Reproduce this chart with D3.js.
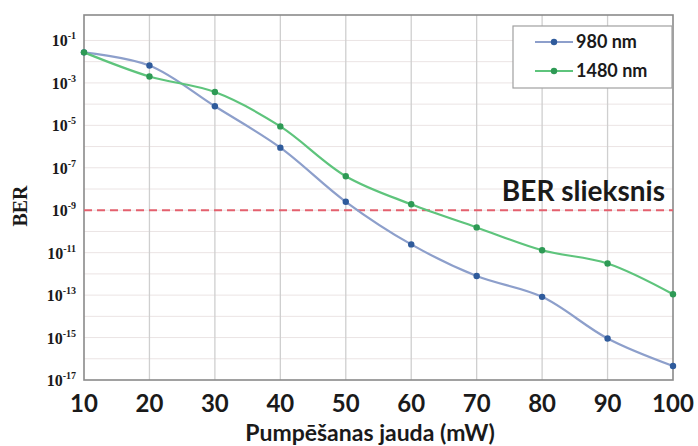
<!DOCTYPE html>
<html>
<head>
<meta charset="utf-8">
<script src="https://cdn.jsdelivr.net/npm/d3@7"></script>
<style>
  html, body { margin: 0; padding: 0; background: #fff; }
  svg { display: block; }
</style>
</head>
<body>
<div id="chart"></div>
<script>
// Pump power (mW) and bit error rate for the two pump wavelengths
const power = [10, 20, 30, 40, 50, 60, 70, 80, 90, 100];
const ber980 = [2.75e-2, 6.6e-3, 7.9e-5, 8.9e-7, 2.5e-9, 2.45e-11, 7.9e-13, 8.3e-14, 9.1e-16, 4.6e-17];
const ber1480 = [2.75e-2, 2.0e-3, 3.7e-4, 8.9e-6, 4.0e-8, 1.9e-9, 1.55e-10, 1.3e-11, 3.1e-12, 1.1e-13];
const seriesNames = ["980 nm", "1480 nm"];
const berThreshold = 1e-9;
const thresholdLabel = "BER slieksnis";
const yTickExponents = [-1, -3, -5, -7, -9, -11, -13, -15, -17];
const xTitle = "Pumpēšanas jauda (mW)";
const yTitle = "BER";

const W = 698, H = 446;
const plot = { left: 84, right: 673, top: 15, bottom: 380 };

const svg = d3.select("#chart").append("svg")
  .attr("width", W).attr("height", H);

const x = d3.scaleLinear().domain([10, 100]).range([plot.left, plot.right]);
const y = d3.scaleLog().domain([1e-17, Math.pow(10, 0.2)]).range([plot.bottom, plot.top]);

// horizontal grid, one line per decade
const decades = d3.range(-16, 0).map(e => Math.pow(10, e));
svg.append("g").selectAll("line").data(decades).join("line")
  .attr("x1", plot.left).attr("x2", plot.right)
  .attr("y1", d => y(d)).attr("y2", d => y(d))
  .attr("stroke", "#ebe4e4").attr("stroke-width", 1);

// vertical grid
svg.append("g").selectAll("line").data(power.slice(1, -1)).join("line")
  .attr("x1", d => x(d)).attr("x2", d => x(d))
  .attr("y1", plot.top).attr("y2", plot.bottom)
  .attr("stroke", "#cfcfcf").attr("stroke-width", 1.3);

// plot frame
svg.append("rect")
  .attr("x", plot.left).attr("y", plot.top)
  .attr("width", plot.right - plot.left).attr("height", plot.bottom - plot.top)
  .attr("fill", "none").attr("stroke", "#8a8a8a").attr("stroke-width", 1.6);

// threshold line
svg.append("line")
  .attr("x1", plot.left).attr("x2", plot.right)
  .attr("y1", y(berThreshold)).attr("y2", y(berThreshold))
  .attr("stroke", "#e4606e").attr("stroke-width", 2.2)
  .attr("stroke-dasharray", "8,5");

svg.append("text")
  .attr("x", 665).attr("y", y(berThreshold) - 9)
  .attr("text-anchor", "end")
  .attr("font-family", "Lato, 'Open Sans', sans-serif")
  .attr("font-weight", "bold").attr("font-size", 28)
  .attr("fill", "#1a1a1a")
  .text(thresholdLabel);

// series
const series = [
  { name: seriesNames[0], values: ber980, line: "#8d9fcb", dot: "#2f5b9c" },
  { name: seriesNames[1], values: ber1480, line: "#5ec47c", dot: "#2e9a55" }
];

const lineGen = d3.line()
  .x(d => x(d[0])).y(d => y(d[1]))
  .curve(d3.curveCatmullRom.alpha(0.5));

series.forEach(s => {
  const pts = power.map((p, i) => [p, s.values[i]]);
  svg.append("path").datum(pts)
    .attr("d", lineGen)
    .attr("fill", "none").attr("stroke", s.line).attr("stroke-width", 2.2);
  svg.append("g").selectAll("circle").data(pts).join("circle")
    .attr("cx", d => x(d[0])).attr("cy", d => y(d[1]))
    .attr("r", 3.2).attr("fill", s.dot);
});

// y tick labels (10 with superscript exponent)
const yLab = svg.append("g")
  .attr("font-family", "'Liberation Serif', 'Times New Roman', serif")
  .attr("font-weight", "bold").attr("fill", "#1a1a1a");
yTickExponents.forEach(e => {
  const t = yLab.append("text")
    .attr("x", 76).attr("y", y(Math.pow(10, e)) + 6)
    .attr("text-anchor", "end").attr("font-size", 16);
  t.append("tspan").text("10");
  t.append("tspan").attr("font-size", 10).attr("dy", -7).text(String(e));
});

// x tick labels
svg.append("g").selectAll("text").data(power).join("text")
  .attr("x", d => x(d)).attr("y", 412)
  .attr("text-anchor", "middle")
  .attr("font-family", "Lato, 'Open Sans', sans-serif")
  .attr("font-weight", "bold").attr("font-size", 24)
  .attr("fill", "#1a1a1a")
  .text(d => d);

// axis titles
svg.append("text")
  .attr("x", 370).attr("y", 441)
  .attr("text-anchor", "middle")
  .attr("font-family", "Lato, 'Open Sans', sans-serif")
  .attr("font-weight", "bold").attr("font-size", 23)
  .attr("fill", "#1a1a1a")
  .text(xTitle);

svg.append("text")
  .attr("transform", "translate(27,206) rotate(-90)")
  .attr("text-anchor", "middle")
  .attr("font-family", "'Liberation Serif', 'Times New Roman', serif")
  .attr("font-weight", "bold").attr("font-size", 20)
  .attr("fill", "#1a1a1a")
  .text(yTitle);

// legend
const lg = svg.append("g");
lg.append("rect")
  .attr("x", 513).attr("y", 26).attr("width", 159).attr("height", 62)
  .attr("fill", "#fff").attr("stroke", "#a0a0a0").attr("stroke-width", 1.2);
series.forEach((s, i) => {
  const ly = 42 + i * 29;
  lg.append("line")
    .attr("x1", 535).attr("x2", 573).attr("y1", ly).attr("y2", ly)
    .attr("stroke", s.line).attr("stroke-width", 2.2);
  lg.append("circle").attr("cx", 554).attr("cy", ly).attr("r", 3.2).attr("fill", s.dot);
  lg.append("text")
    .attr("x", 576).attr("y", ly + 6)
    .attr("font-family", "Lato, 'Open Sans', sans-serif")
    .attr("font-weight", "bold").attr("font-size", 18)
    .attr("fill", "#1a1a1a")
    .text(s.name);
});
</script>
</body>
</html>
